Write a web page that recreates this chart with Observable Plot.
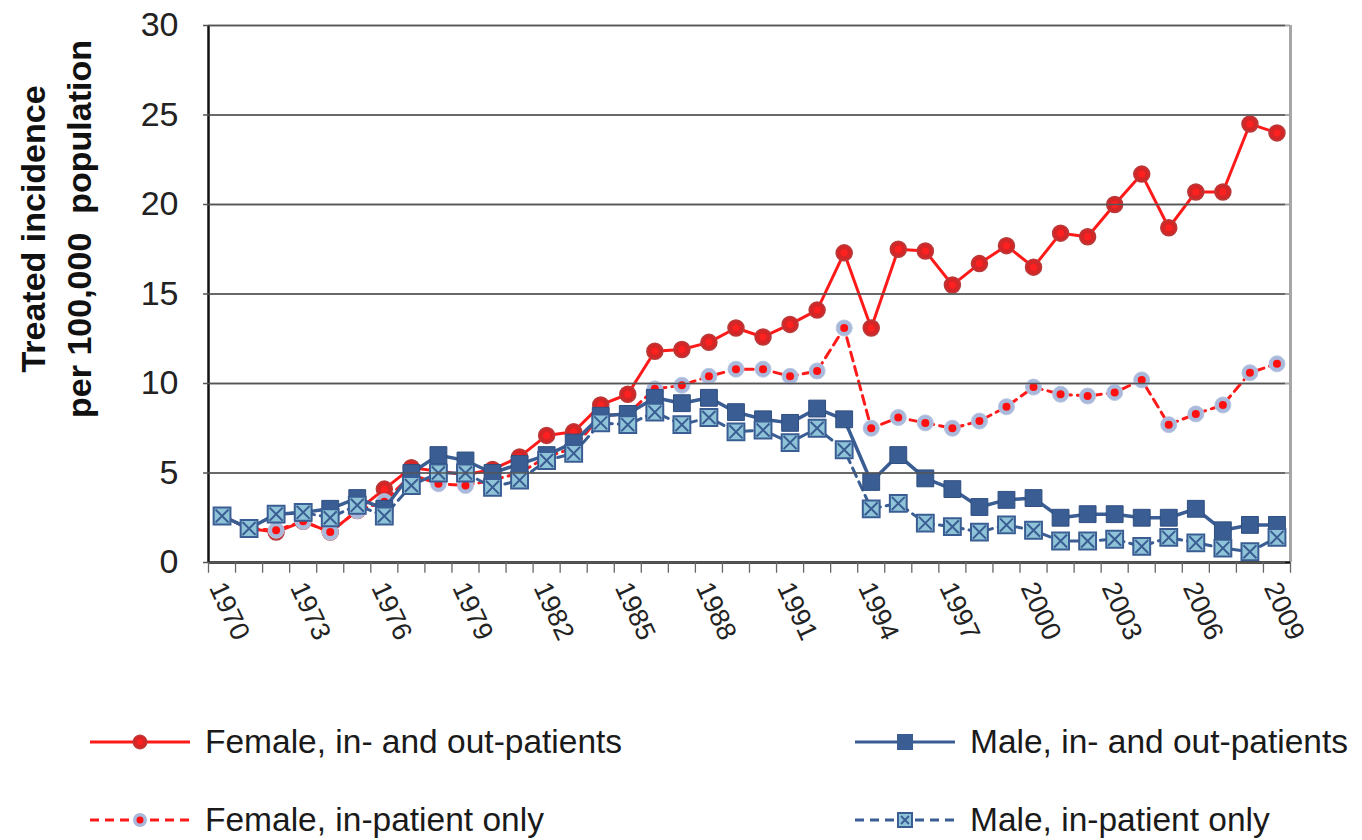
<!DOCTYPE html>
<html>
<head>
<meta charset="utf-8">
<script src="https://cdn.jsdelivr.net/npm/d3@7"></script>
<script src="https://cdn.jsdelivr.net/npm/@observablehq/plot@0.6"></script>
<style>
  html, body { margin: 0; padding: 0; background: #fff; }
  body { width: 1362px; height: 840px; position: relative; overflow: hidden; font-family: "Liberation Sans", Arial, sans-serif; }
  #chart { position: absolute; left: 0; top: 0; }
  .leg { position: absolute; display: flex; align-items: center; font-size: 33.5px; color: #1a1a1a; white-space: nowrap; }
  .leg svg { margin-right: 14px; }
</style>
</head>
<body>
<div id="chart"></div>
<div id="legend"></div>
<script>
const years = [1970,1971,1972,1973,1974,1975,1976,1977,1978,1979,1980,1981,1982,1983,1984,1985,1986,1987,1988,1989,1990,1991,1992,1993,1994,1995,1996,1997,1998,1999,2000,2001,2002,2003,2004,2005,2006,2007,2008,2009];
const femaleAll = [2.6,1.9,1.7,2.3,1.7,2.9,4.1,5.3,5.1,4.9,5.2,5.9,7.1,7.3,8.8,9.4,11.8,11.9,12.3,13.1,12.6,13.3,14.1,17.3,13.1,17.5,17.4,15.5,16.7,17.7,16.5,18.4,18.2,20.0,21.7,18.7,20.7,20.7,24.5,24.0];
const femaleIn = [2.6,1.9,1.8,2.3,1.7,2.9,3.4,4.9,4.4,4.3,4.6,5.0,5.9,6.4,8.2,8.3,9.7,9.9,10.4,10.8,10.8,10.4,10.7,13.1,7.5,8.1,7.8,7.5,7.9,8.7,9.8,9.4,9.3,9.5,10.2,7.7,8.3,8.8,10.6,11.1];
const maleAll = [2.6,1.9,2.7,2.8,3.0,3.6,3.0,5.0,6.0,5.7,5.0,5.5,6.0,6.7,8.2,8.3,9.2,8.9,9.2,8.4,8.0,7.8,8.6,8.0,4.5,6.0,4.7,4.1,3.1,3.5,3.6,2.5,2.7,2.7,2.5,2.5,3.0,1.8,2.1,2.1];
const maleIn = [2.6,1.9,2.7,2.8,2.5,3.2,2.6,4.3,5.0,5.0,4.2,4.6,5.7,6.1,7.8,7.7,8.4,7.7,8.1,7.3,7.4,6.7,7.5,6.3,3.0,3.3,2.2,2.0,1.7,2.1,1.8,1.2,1.2,1.3,0.9,1.4,1.1,0.8,0.6,1.4];
const yTicks = [0,5,10,15,20,25,30];
const xLabelYears = [1970,1973,1976,1979,1982,1985,1988,1991,1994,1997,2000,2003,2006,2009];
const seriesNames = ["Female, in- and out-patients","Female, in-patient only","Male, in- and out-patients","Male, in-patient only"];
const yLabel = "Treated incidence\nper 100,000  population";

const RED = "#ff1a1a", REDDOT = "#d42626", BLUE = "#3a5d93", LIGHT = "#8fc4d8", PALE = "#a9b9dc";

const rows = (vals, s) => vals.map((v, i) => ({year: years[i], value: v, series: s}));
const fA = rows(femaleAll, seriesNames[0]);
const fI = rows(femaleIn, seriesNames[1]);
const mA = rows(maleAll, seriesNames[2]);
const mI = rows(maleIn, seriesNames[3]);
const bounds = years.map(y => y - 0.5).concat([years[years.length - 1] + 0.5]);

const W = 1362, H = 680;
const chart = Plot.plot({
  width: W, height: H,
  marginLeft: 208, marginRight: 72, marginTop: 25, marginBottom: H - 562,
  style: {fontFamily: "'Liberation Sans', Arial, sans-serif", background: "#fff", color: "#222"},
  x: {type: "linear", domain: [bounds[0], bounds[bounds.length - 1]], axis: null},
  y: {domain: [0, 30], axis: null},
  marks: [
    Plot.ruleY(yTicks.filter(d => d > 0), {stroke: "#a6a6a6", strokeWidth: 2}),
    Plot.ruleX([bounds[bounds.length - 1]], {stroke: "#a6a6a6", strokeWidth: 3}),
    // female series
    Plot.line(fA, {x: "year", y: "value", stroke: RED, strokeWidth: 3}),
    Plot.line(fI, {x: "year", y: "value", stroke: RED, strokeWidth: 3, strokeDasharray: "9,6"}),
    Plot.dot(fA, {x: "year", y: "value", r: 8, fill: REDDOT, stroke: "#b83a3a", strokeWidth: 1.5}),
    Plot.dot(fA, {x: "year", y: "value", r: 3.5, fill: "#ff2020"}),
    Plot.dot(fI, {x: "year", y: "value", r: 8, fill: PALE, stroke: "#b8c6e2", strokeWidth: 1}),
    Plot.dot(fI, {x: "year", y: "value", r: 4, fill: "#ff1010"}),
    // male series
    Plot.line(mA, {x: "year", y: "value", stroke: BLUE, strokeWidth: 3.5}),
    Plot.line(mI, {x: "year", y: "value", stroke: BLUE, strokeWidth: 3, strokeDasharray: "9,6"}),
    Plot.dot(mA, {x: "year", y: "value", symbol: "square", r: 9.5, fill: BLUE, stroke: "#2f4f80", strokeWidth: 1}),
    Plot.dot(mI, {x: "year", y: "value", symbol: "square", r: 9.5, fill: LIGHT, stroke: BLUE, strokeWidth: 2}),
    Plot.dot(mI, {x: "year", y: "value", symbol: "times", r: 6, stroke: BLUE, strokeWidth: 2}),
    // axes
    Plot.ruleX([bounds[0]], {stroke: "#111", strokeWidth: 2.5}),
    Plot.ruleY([0], {stroke: "#111", strokeWidth: 2.5}),
    Plot.tickY(yTicks, {y: d => d, frameAnchor: "left", dx: -5, stroke: "#555", strokeWidth: 1.5}),
    Plot.text(yTicks, {y: d => d, text: d => String(d), frameAnchor: "left", dx: -30, textAnchor: "end", fontSize: 34, fill: "#222"}),
    Plot.ruleX(bounds, {x: d => d, y1: 0, y2: -0.6, stroke: "#666", strokeWidth: 1.3}),
    Plot.text(xLabelYears, {x: d => d, text: d => String(d), frameAnchor: "bottom", dx: 4, dy: 17, rotate: 65, textAnchor: "start", lineAnchor: "top", fontSize: 27, fill: "#222"}),
    Plot.text([yLabel], {text: d => d, frameAnchor: "left", dx: -155, dy: -65, rotate: -90, fontSize: 34, fontWeight: "bold", lineHeight: 1.35, lineAnchor: "middle", textAnchor: "middle", fill: "#111"})
  ]
});
document.getElementById("chart").appendChild(chart);

// legend
function swatch(kind) {
  const ns = "http://www.w3.org/2000/svg";
  const s = document.createElementNS(ns, "svg");
  s.setAttribute("width", 102); s.setAttribute("height", 24);
  const line = document.createElementNS(ns, "line");
  line.setAttribute("x1", 1); line.setAttribute("x2", 101); line.setAttribute("y1", 12); line.setAttribute("y2", 12);
  line.setAttribute("stroke-width", 3);
  const red = kind < 2;
  line.setAttribute("stroke", red ? RED : BLUE);
  if (kind % 2 === 1) line.setAttribute("stroke-dasharray", "9,6");
  s.appendChild(line);
  if (kind === 0) {
    s.insertAdjacentHTML("beforeend", `<circle cx="51" cy="12" r="7" fill="${REDDOT}" stroke="#b83a3a"/><circle cx="51" cy="12" r="3" fill="#ff2020"/>`);
  } else if (kind === 1) {
    s.insertAdjacentHTML("beforeend", `<circle cx="51" cy="12" r="7" fill="${PALE}"/><circle cx="51" cy="12" r="3.5" fill="#ff1010"/>`);
  } else if (kind === 2) {
    s.insertAdjacentHTML("beforeend", `<rect x="43" y="4" width="16" height="16" fill="${BLUE}"/>`);
  } else {
    s.insertAdjacentHTML("beforeend", `<rect x="44" y="5" width="14" height="14" fill="${LIGHT}" stroke="${BLUE}" stroke-width="2"/><path d="M47,8L55,16M55,8L47,16" stroke="${BLUE}" stroke-width="1.8"/>`);
  }
  return s;
}
const legendPos = [[89, 742], [89, 820], [854, 742], [854, 820]];
const leg = document.getElementById("legend");
seriesNames.forEach((name, i) => {
  const d = document.createElement("div");
  d.className = "leg";
  d.style.left = legendPos[i][0] + "px";
  d.style.top = (legendPos[i][1] - 20) + "px";
  d.style.height = "40px";
  d.appendChild(swatch(i));
  const t = document.createElement("span");
  t.textContent = name;
  d.appendChild(t);
  leg.appendChild(d);
});
</script>
</body>
</html>
